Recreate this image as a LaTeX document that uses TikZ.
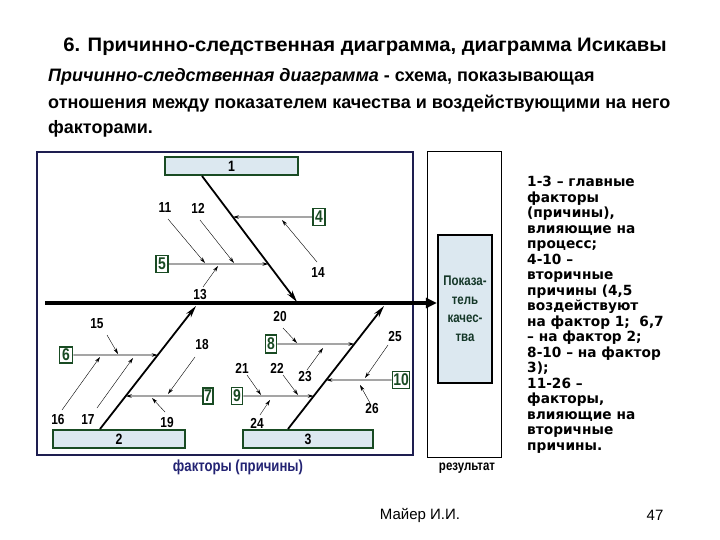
\documentclass[tikz,border=0pt]{standalone}
\usepackage{fontspec}
\setmainfont{Liberation Sans}
\newfontfamily\nar[FakeStretch=0.82]{Liberation Sans}
\newfontfamily\wid[FakeStretch=1.04]{Liberation Sans}
\newfontfamily\dvw[FakeStretch=0.98]{DejaVu Sans}
\usetikzlibrary{arrows.meta,calc}
\definecolor{boxgreen}{RGB}{25,75,35}
\definecolor{boxfill}{RGB}{220,232,240}
\definecolor{framecol}{RGB}{30,30,80}
\definecolor{labblue}{RGB}{35,35,115}
\definecolor{textgreen}{RGB}{20,55,40}
\tikzset{
  mainbox/.style={draw=boxgreen, line width=2.2pt, fill=boxfill, inner sep=0pt, font=\nar\bfseries\fontsize{15}{15}\selectfont},
  smallbox/.style={draw=boxgreen, line width=1.6pt, fill=white, inner sep=0pt, font=\nar\bfseries\fontsize{17}{17}\selectfont, text=boxgreen},
  num/.style={font=\nar\bfseries\fontsize{14.5}{14.5}\selectfont, inner sep=0pt},
  bone/.style={line width=1.8pt, -{Stealth[length=12pt,width=6pt]}},
  hsub/.style={line width=0.8pt, -{Stealth[length=6pt,width=3.5pt]}},
  tiny/.style={line width=0.4pt, -{Stealth[length=6pt,width=3.5pt]}},
}
\begin{document}
\begin{tikzpicture}[x=1pt,y=-1pt]
\useasboundingbox (0,0) rectangle (720,540);
\fill[white] (0,0) rectangle (720,540);

% title and intro
\node[font=\wid\bfseries\fontsize{19.5}{19.5}\selectfont, anchor=base] (title) at (365,52) {6. Причинно-следственная диаграмма, диаграмма Исикавы};
\node[font=\bfseries\fontsize{18}{18}\selectfont, anchor=base west, inner sep=0pt] (l1) at (48,82) {\itshape Причинно-следственная диаграмма\upshape{} - схема, показывающая};
\node[font=\bfseries\fontsize{18}{18}\selectfont, anchor=base west, inner sep=0pt] (l2) at (48,109) {отношения между показателем качества и воздействующими на него};
\node[font=\bfseries\fontsize{18}{18}\selectfont, anchor=base west, inner sep=0pt] (l3) at (48,134) {факторами.};

% frames
\draw[framecol, line width=1.5pt] (37,152) rectangle (413,455);
\draw[black, line width=1pt] (427,152) rectangle (501,457);

% result box
\node[draw=black, line width=2.2pt, fill=boxfill, minimum width=54pt, minimum height=148pt, inner sep=0pt,
      font=\nar\bfseries\fontsize{14}{18.5}\selectfont, text=textgreen, align=center] (res) at (465,309)
      {Показа-\\тель\\качес-\\тва};

% main boxes
\node[mainbox, minimum width=133pt, minimum height=18pt] (b1) at (231.5,166) {1};
\node[mainbox, minimum width=132pt, minimum height=18pt] (b2) at (119,439) {2};
\node[mainbox, minimum width=130pt, minimum height=18pt] (b3) at (308,439) {3};

% small boxes
\node[smallbox, minimum width=12pt, minimum height=17pt] (s4) at (319,217) {4};
\node[smallbox, minimum width=12pt, minimum height=17pt] (s5) at (162,264) {5};
\node[smallbox, minimum width=13pt, minimum height=16pt] (s6) at (66,355) {6};
\node[smallbox, minimum width=10pt, minimum height=16pt] (s7) at (208,396) {7};
\node[smallbox, minimum width=11pt, minimum height=18pt] (s8) at (271,344) {8};
\node[smallbox, minimum width=11pt, minimum height=17pt] (s9) at (237,396) {9};
\node[smallbox, minimum width=17pt, minimum height=17pt] (s10) at (401,380) {10};

% spine
\coordinate (spL) at (45,303);
\draw[line width=3.8pt, -{Triangle[length=11pt,width=10pt]}] (spL) -- (res.west |- spL);

% bones
\coordinate (b1s) at (202,176);
\coordinate (b1e) at (297,302);
\coordinate (b2s) at (100,429);
\coordinate (b2e) at (196,306);
\coordinate (b3s) at (288,429);
\coordinate (b3e) at (384,306);
\draw[bone] (b1s) -- (b1e);
\draw[bone] (b2s) -- (b2e);
\draw[bone] (b3s) -- (b3e);

% secondary horizontal arrows
\draw[hsub] (s4.west) -- (intersection of s4.west--{$(s4.west)+(-10,0)$} and b1s--b1e);
\draw[hsub] (s5.east) -- (intersection of s5.east--{$(s5.east)+(10,0)$} and b1s--b1e);
\draw[hsub] (s6.east) -- (intersection of s6.east--{$(s6.east)+(10,0)$} and b2s--b2e);
\draw[hsub] (s7.west) -- (intersection of s7.west--{$(s7.west)+(-10,0)$} and b2s--b2e);
\draw[hsub] (s8.east) -- (intersection of s8.east--{$(s8.east)+(10,0)$} and b3s--b3e);
\draw[hsub] (s9.east) -- (intersection of s9.east--{$(s9.east)+(10,0)$} and b3s--b3e);
\draw[hsub] (s10.west) -- (intersection of s10.west--{$(s10.west)+(-10,0)$} and b3s--b3e);

% tertiary labels
\node[num] (n11) at (165,208) {11};
\node[num] (n12) at (198,208) {12};
\node[num] (n13) at (200,295) {13};
\node[num] (n14) at (318,273) {14};
\node[num] (n15) at (97,324) {15};
\node[num] (n16) at (58,420) {16};
\node[num] (n17) at (88,420) {17};
\node[num] (n18) at (202,345) {18};
\node[num] (n19) at (167,423) {19};
\node[num] (n20) at (280,317) {20};
\node[num] (n21) at (242,368) {21};
\node[num] (n22) at (277,368) {22};
\node[num] (n23) at (305,377) {23};
\node[num] (n24) at (257,423) {24};
\node[num] (n25) at (395,337) {25};
\node[num] (n26) at (372,409) {26};

% tertiary arrows
\coordinate (t11a) at (168,219); \coordinate (t11b) at (205,263);
\coordinate (t12a) at (200,220); \coordinate (t12b) at (234,263);
\coordinate (t13a) at (203,287); \coordinate (t13b) at (218,266);
\coordinate (t14a) at (317,262); \coordinate (t14b) at (282,220);
\coordinate (t15a) at (107,335); \coordinate (t15b) at (118,354);
\coordinate (t16a) at (62,410);  \coordinate (t16b) at (100,357);
\coordinate (t17a) at (97,408);  \coordinate (t17b) at (133,358);
\coordinate (t18a) at (195,357); \coordinate (t18b) at (168,394);
\coordinate (t19a) at (165,412); \coordinate (t19b) at (152,398);
\coordinate (t20a) at (283,328); \coordinate (t20b) at (297,343);
\coordinate (t21a) at (247,375); \coordinate (t21b) at (261,395);
\coordinate (t22a) at (283,375); \coordinate (t22b) at (298,395);
\coordinate (t23a) at (307,370); \coordinate (t23b) at (323,348);
\coordinate (t24a) at (260,415); \coordinate (t24b) at (270,400);
\coordinate (t25a) at (388,345); \coordinate (t25b) at (365,378);
\coordinate (t26a) at (370,403); \coordinate (t26b) at (360,385);
\foreach \i in {11,...,26} {\draw[tiny] (t\i a) -- (t\i b);}

% bottom captions
\node[font=\nar\bfseries\fontsize{16}{16}\selectfont, text=labblue] (fact) at (238,467) {факторы (причины)};
\node[font=\nar\bfseries\fontsize{14}{14}\selectfont] (rez) at (467,468) {результат};

% explanation text
\node[anchor=north west, inner sep=0pt, align=left, font=\dvw\bfseries\fontsize{14}{15.5}\selectfont] (expl) at (527,176)
{1-3 – главные\\факторы\\(причины),\\влияющие на\\процесс;\\4-10 –\\вторичные\\причины (4,5\\воздействуют\\на фактор 1;~~6,7\\– на фактор 2;\\8-10 – на фактор\\3);\\11-26 –\\факторы,\\влияющие на\\вторичные\\причины.};

% footer
\node[font=\fontsize{15}{15}\selectfont] (author) at (420,515) {Майер И.И.};
\node[font=\fontsize{15}{15}\selectfont] (page) at (655,515) {47};
\end{tikzpicture}
\end{document}
